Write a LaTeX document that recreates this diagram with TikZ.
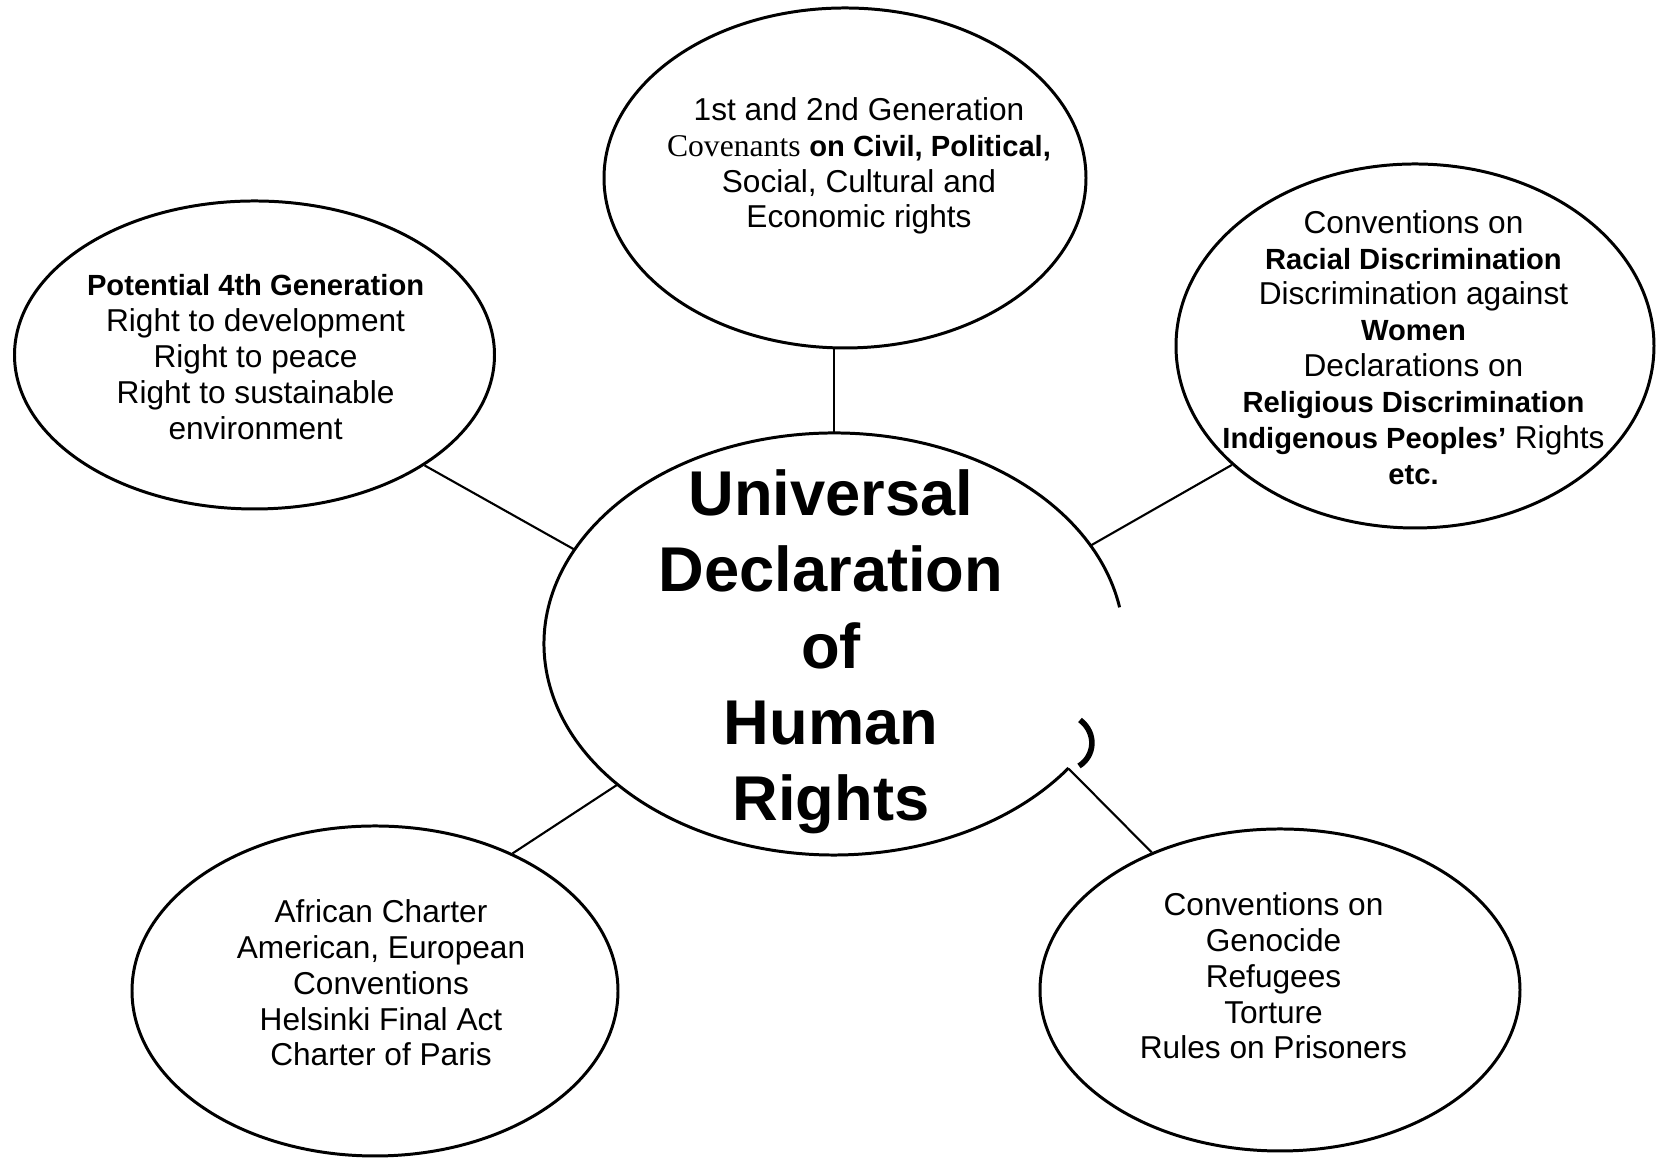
\documentclass[tikz,border=0pt]{standalone}
\usepackage{fontspec}
\setmainfont{Liberation Sans}
\newfontfamily\tmsfont{Liberation Serif}
\usetikzlibrary{shapes.geometric}

\tikzset{
  bubble/.style = {draw, ellipse, line width=0.85pt, inner sep=0pt},
  blurb/.style = {align=center, font=\fontsize{9}{10.2}\selectfont},
  link/.style = {line width=0.6pt}
}
\newcommand{\hb}[1]{{\fontsize{8.3}{10.2}\selectfont\bfseries #1}}

\begin{document}
\begin{tikzpicture}
    \useasboundingbox (0,0) rectangle (16.56,11.61);

    \node [ellipse, minimum width=5.80cm, minimum height=4.22cm, inner sep=0pt] (udhr) at (8.34,5.17) {};
    \node [bubble, minimum width=4.82cm, minimum height=3.40cm] (gen12) at (8.45,9.83) {};
    \node [bubble, minimum width=4.80cm, minimum height=3.08cm] (gen4) at (2.545,8.06) {};
    \node [bubble, minimum width=4.78cm, minimum height=3.64cm] (discr) at (14.15,8.15) {};
    \node [bubble, minimum width=4.86cm, minimum height=3.30cm] (region) at (3.75,1.70) {};
    \node [bubble, minimum width=4.80cm, minimum height=3.22cm] (geno) at (12.80,1.71) {};

    % centre ellipse, broken on the right
    \draw [line width=0.85pt] ([shift={(10:2.90cm and 2.11cm)}]udhr.center)
        arc [start angle=10, end angle=324, x radius=2.90cm, y radius=2.11cm];
    \draw [line width=1.6pt] (10.80,4.41) .. controls (10.97,4.28) and (10.95,4.05) .. (10.79,3.95);

    \node [align=center, font=\fontsize{18}{21.7}\selectfont\bfseries] (udhrtxt) at (8.31,5.09)
        {Universal\\Declaration\\of\\Human\\Rights};
    \node [blurb] (gen12txt) at (8.59,9.95)
        {1st and 2nd Generation\\{\tmsfont Covenants} \hb{on Civil, Political,}\\Social, Cultural and\\Economic rights};
    \node [blurb] (gen4txt) at (2.556,8.04)
        {\hb{Potential 4th Generation}\\Right to development\\Right to peace\\Right to sustainable\\environment};
    \node [blurb] (discrtxt) at (14.135,8.136)
        {Conventions on\\\hb{Racial Discrimination}\\Discrimination against\\\hb{Women}\\Declarations on\\\hb{Religious Discrimination}\\\hb{Indigenous Peoples’} Rights\\\hb{etc.}};
    \node [blurb] (regiontxt) at (3.81,1.78)
        {African Charter\\American, European\\Conventions\\Helsinki Final Act\\Charter of Paris};
    \node [blurb] (genotxt) at (12.735,1.85)
        {Conventions on\\Genocide\\Refugees\\Torture\\Rules on Prisoners};

    \draw [link] (gen12.south -| udhr.north) -- (udhr.north);
    \draw [link] (gen4.-33) -- (udhr.160);
    \draw [link] (discr.213) -- (udhr.21);
    \draw [link] (udhr.213) -- (region.45);
    \draw [link] (udhr.-28) -- (geno.133);
\end{tikzpicture}
\end{document}
